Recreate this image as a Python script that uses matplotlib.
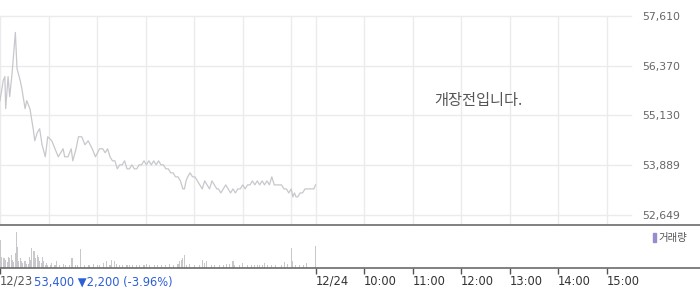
import matplotlib
matplotlib.use('Agg')
import matplotlib.pyplot as plt
from matplotlib.lines import Line2D
from matplotlib.patches import Rectangle

# minutes since 09:00 on 12/23 (12/24 09:00 = 390)
price_min = [0, 4, 6, 7, 10, 12, 15, 19, 21, 25, 27, 31, 33, 37, 41, 43, 46, 49, 52, 56,
             59, 64, 68, 72, 75, 78, 80, 84, 88, 90, 94, 97, 101, 105, 109, 114, 118, 123,
             127,
             130, 133, 136, 139, 142, 145, 148, 151, 154, 157, 160, 163, 166, 169, 172, 175,
             178, 181, 184, 187, 190, 193, 196, 199, 202, 205, 208, 211, 214, 217, 220, 223,
             226, 228, 230, 232, 235, 238, 241, 244, 247, 250, 253, 256, 259, 262, 265, 268,
             270, 273, 276, 279, 282, 285, 288, 291, 294, 297, 300, 303, 306, 309, 312, 315,
             318, 321, 324, 327, 330, 333, 336, 339, 342, 345, 348, 351, 354, 357, 360, 362,
             364, 366, 368, 371, 374, 377, 380, 384, 388, 390]
price = [55500, 56000, 56100, 55300, 56100, 55600, 56200, 57200, 56300, 56000, 55800, 55300,
         55500, 55300, 54800, 54500, 54700, 54800, 54400, 54100, 54600, 54500, 54300, 54100,
         54200, 54300, 54100, 54100, 54300, 54000, 54300, 54600, 54600, 54400, 54500, 54300,
         54100, 54300, 54300,
         54200, 54300, 54100, 54000, 54000, 53800, 53900, 53900, 54000, 53800, 53800, 53900,
         53800, 53800, 53900, 53900, 54000, 53900, 54000, 53900, 54000, 53900, 54000, 53900,
         53900, 53800, 53800, 53700, 53700, 53600, 53600, 53500, 53300, 53300, 53500, 53600,
         53700, 53600, 53600, 53500, 53400, 53300, 53500, 53400, 53300, 53500, 53400, 53300,
         53300, 53200, 53300, 53400, 53300, 53200, 53300, 53200, 53300, 53300, 53400, 53300,
         53400, 53400, 53500, 53400, 53500, 53400, 53500, 53400, 53500, 53400, 53600, 53400,
         53400, 53400, 53400, 53300, 53300, 53200, 53300, 53100, 53200, 53100, 53100, 53200,
         53200, 53300, 53300, 53300, 53300, 53400]

vol_min = [0, 1, 2, 4, 5, 6, 7, 9, 10, 11, 12, 14, 15, 16, 17, 19, 20, 21, 22, 23, 25, 26,
           27, 28, 30, 31, 32, 33, 35, 36, 37, 38, 39, 41, 42, 43, 44, 46, 47, 48, 49, 51,
           52, 53, 54, 56, 57, 58, 59, 62, 64, 68, 70, 74, 78, 81, 86, 89, 93, 96, 100, 104,
           109, 111, 115, 120, 123, 128, 132, 136, 138, 142, 144, 148, 152, 157, 160, 164,
           169, 173, 178, 181, 185, 191, 195, 200, 204, 210, 215, 220, 222, 225, 226, 228,
           231, 234, 241, 247, 250, 253, 255, 262, 265, 271, 276, 280, 284, 288, 290, 296,
           300, 306, 311, 315, 318, 321, 325, 327, 331, 336, 341, 348, 352, 355, 360, 362,
           365, 370, 375, 379, 390]
vol_k = [280, 110, 110, 100, 100, 100, 80, 60, 110, 70, 100, 130, 60, 80, 60, 150, 360, 210,
         110, 70, 100, 60, 70, 50, 70, 50, 70, 40, 40, 50, 110, 80, 200, 90, 170, 80, 100,
         130, 110, 60, 70, 50, 110, 40, 70, 30, 50, 30, 30, 30, 50, 30, 70, 30, 40, 30, 30,
         100, 30, 30, 190, 30, 30, 30, 40, 30, 30, 50, 70, 30, 80, 70, 40, 30, 30, 30, 30,
         30, 30, 30, 30, 40, 30, 30, 30, 30, 30, 40, 30, 40, 70, 80, 100, 130, 30, 40, 30,
         30, 80, 50, 70, 30, 30, 30, 30, 40, 40, 70, 30, 30, 50, 30, 30, 30, 30, 30, 30, 50,
         30, 30, 30, 30, 60, 40, 200, 70, 30, 30, 30, 50, 220]

price_ticks = [52649, 53889, 55130, 56370, 57610]
time_ticks = [0, 390, 450, 510, 570, 630, 690, 750]
time_labels = ['12/23', '12/24', '10:00', '11:00', '12:00', '13:00', '14:00', '15:00']
grid_x = [0, 60, 120, 180, 240, 300, 360, 390, 450, 510, 570, 630, 690, 750]

W, H = 700, 289
fig = plt.figure(figsize=(7, 2.89), dpi=100)
fig.patch.set_facecolor('white')

# price panel
ax = fig.add_axes([0, 1 - 225 / H, 631 / W, (225 - 16) / H])
ax.plot(price_min, price, color='#c6c8cd', lw=0.9, zorder=3)
ax.set_xlim(0, 780)
ax.set_ylim(52400, 57610)
for y in price_ticks:
    ax.axhline(y, color='#ebebeb', lw=1, zorder=1, clip_on=False)
for x in grid_x:
    ax.axvline(x, color='#ebebeb', lw=1, zorder=1)
ax.yaxis.tick_right()
ax.set_yticks(price_ticks)
ax.set_yticklabels([f'{v:,}' for v in price_ticks])
ax.tick_params(axis='y', length=0, pad=8, labelsize=7.8, labelcolor='#666666')
ax.set_xticks([])
for s in ax.spines.values():
    s.set_visible(False)
ax.text(478 / 631, 1 - (100 - 16) / 209, '개장전입니다.', transform=ax.transAxes,
        ha='center', va='center', fontsize=11, color='#555555',
        family=['Noto Sans CJK KR', 'DejaVu Sans'])

# volume panel
axv = fig.add_axes([0, 1 - 268 / H, 631 / W, (268 - 226) / H])
axv.bar(vol_min, vol_k, width=1.3, color='#c6c8cc', zorder=2)
axv.set_xlim(0, 780)
axv.set_ylim(0, 420)
axv.set_yticks([])
for s in axv.spines.values():
    s.set_visible(False)
axv.set_xticks(time_ticks)
axv.set_xticklabels(time_labels)
axv.tick_params(axis='x', length=4, width=1, color='#555555', pad=1,
                labelsize=8.3, labelcolor='#333333')
for lbl in axv.get_xticklabels():
    lbl.set_horizontalalignment('left')
axv.get_xticklabels()[0].set_color('#555555')

# panel border lines across full width
for yp in (225, 268):
    fig.add_artist(Line2D([0, 1], [1 - yp / H, 1 - yp / H], color='#6b6b6b', lw=1.2))

# last price summary
fig.text(34 / W, 1 - 282 / H, '53,400 \u25bc2,200 (-3.96%)', ha='left', va='center',
         fontsize=8.3, color='#2c5fd6')

# volume legend
fig.add_artist(Rectangle((653 / W, 1 - 242 / H), 3 / W, 9 / H, color='#9a8ad0',
                         transform=fig.transFigure))
fig.text(658 / W, 1 - 237.5 / H, '거래량', ha='left', va='center', fontsize=7.5,
         color='#555555', family=['Noto Sans CJK KR', 'DejaVu Sans'])

fig.savefig('out.png', dpi=100, facecolor='white')
plt.close(fig)
